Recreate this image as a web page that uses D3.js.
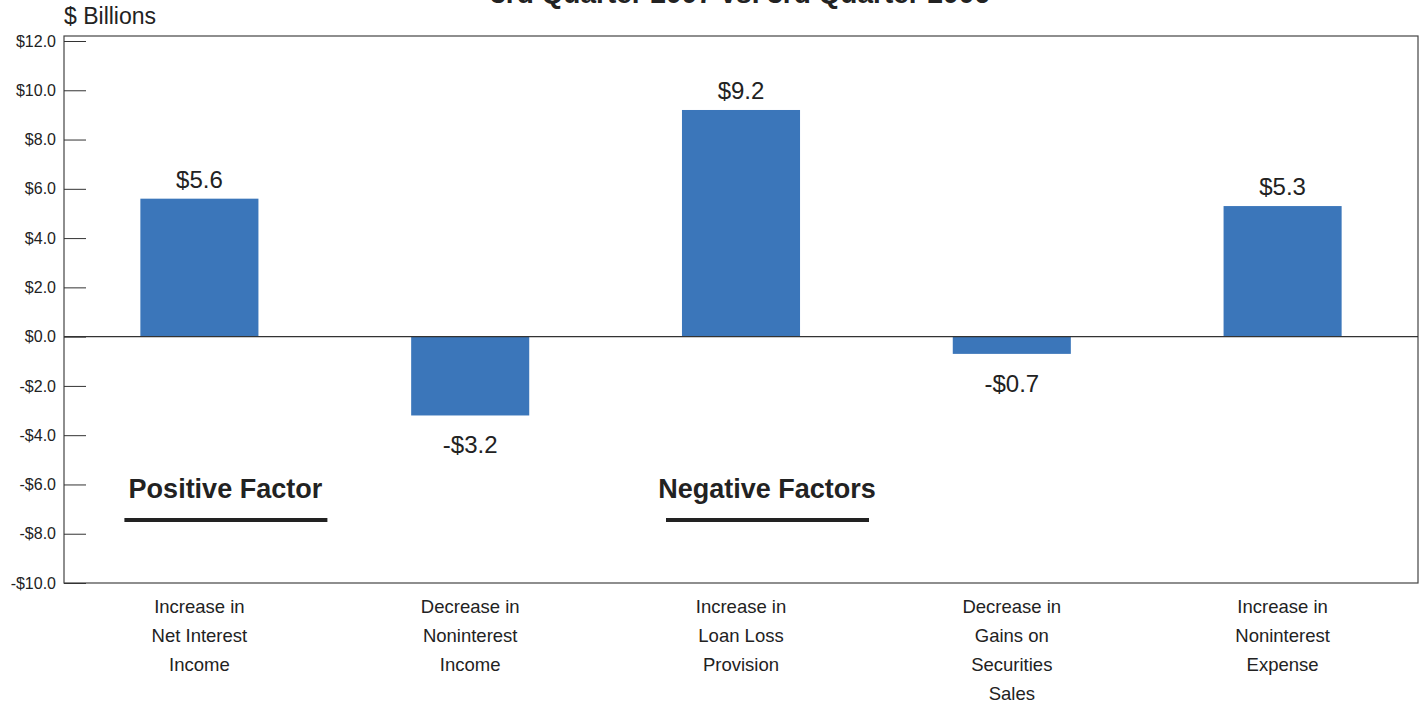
<!DOCTYPE html>
<html><head><meta charset="utf-8">
<script src="https://cdn.jsdelivr.net/npm/d3@7"></script>
<style>body{margin:0;background:#fff;} svg{display:block;font-family:"Liberation Sans",Arial,sans-serif;}</style>
</head><body>
<svg id="c" width="1427" height="704"></svg>
<script>
const categories = [
  ["Increase in","Net Interest","Income"],
  ["Decrease in","Noninterest","Income"],
  ["Increase in","Loan Loss","Provision"],
  ["Decrease in","Gains on","Securities","Sales"],
  ["Increase in","Noninterest","Expense"]
];
const values = [5.6, -3.2, 9.2, -0.7, 5.3];
const valueLabels = ["$5.6","-$3.2","$9.2","-$0.7","$5.3"];
const tickValues = [12,10,8,6,4,2,0,-2,-4,-6,-8,-10];
const tickLabels = ["$12.0","$10.0","$8.0","$6.0","$4.0","$2.0","$0.0","-$2.0","-$4.0","-$6.0","-$8.0","-$10.0"];
const title = "3rd Quarter 2007 vs. 3rd Quarter 2006";
const unitLabel = "$ Billions";
const groupLabels = [{text:"Positive Factor", cat:0}, {text:"Negative Factors", cat:2}];

const svg = d3.select("#c");
const L = 64, R = 1418, T = 36, B = 583;
const y = d3.scaleLinear().domain([-10, 12]).range([583, 41]);
const x = d3.scaleBand().domain(d3.range(values.length)).range([L, R]).paddingInner(0.564).paddingOuter(0.282);

// title (cut off at top, as in the reference)
svg.append("text").attr("x", 740).attr("y", 3).attr("text-anchor","middle")
  .attr("font-weight","bold").attr("font-size",28).attr("fill","#222").text(title);
svg.append("text").attr("x", 64).attr("y", 24).attr("font-size",23).attr("fill","#222").text(unitLabel);

// frame
svg.append("rect").attr("x", L).attr("y", T).attr("width", R-L).attr("height", B-T)
  .attr("fill","none").attr("stroke","#444").attr("stroke-width",1.2);

// axis
const axis = d3.axisLeft(y).tickValues(tickValues).tickSize(-22)
  .tickFormat((d,i)=>tickLabels[i]).tickPadding(30);
const ag = svg.append("g").attr("transform",`translate(${L},0)`).call(axis);
ag.select(".domain").remove();
ag.selectAll(".tick line").attr("stroke","#333");
ag.selectAll(".tick text").attr("font-size",16).attr("fill","#222")
  .attr("font-family","'Liberation Sans',Arial,sans-serif").attr("x",-8);

// bars
svg.selectAll("rect.bar").data(values).join("rect").attr("class","bar")
  .attr("x",(d,i)=>x(i)).attr("width",x.bandwidth())
  .attr("y",d=>y(Math.max(0,d))).attr("height",d=>Math.abs(y(d)-y(0)))
  .attr("fill","#3B76BA");

// zero line
svg.append("line").attr("x1",L).attr("x2",R).attr("y1",y(0)).attr("y2",y(0))
  .attr("stroke","#333").attr("stroke-width",1.2);

// value labels
svg.selectAll("text.val").data(values).join("text").attr("class","val")
  .attr("x",(d,i)=>x(i)+x.bandwidth()/2)
  .attr("y",d=> d>=0 ? y(d)-11 : y(d)+38)
  .attr("text-anchor","middle").attr("font-size",24).attr("fill","#222")
  .text((d,i)=>valueLabels[i]);

// category labels
categories.forEach((lines,i)=>{
  const t = svg.append("text").attr("text-anchor","middle").attr("font-size",18.5).attr("fill","#222");
  lines.forEach((ln,j)=>{
    t.append("tspan").attr("x", x(i)+x.bandwidth()/2).attr("y", 613 + j*29).text(ln);
  });
});

// group labels
groupLabels.forEach(g=>{
  const cx = x(g.cat)+x.bandwidth()/2 + 26;
  svg.append("text").attr("x",cx).attr("y",498).attr("text-anchor","middle")
    .attr("font-weight","bold").attr("font-size",27).attr("fill","#222").text(g.text);
  svg.append("line").attr("x1",cx-101).attr("x2",cx+102).attr("y1",520).attr("y2",520)
    .attr("stroke","#222").attr("stroke-width",4);
});
</script>
</body></html>
